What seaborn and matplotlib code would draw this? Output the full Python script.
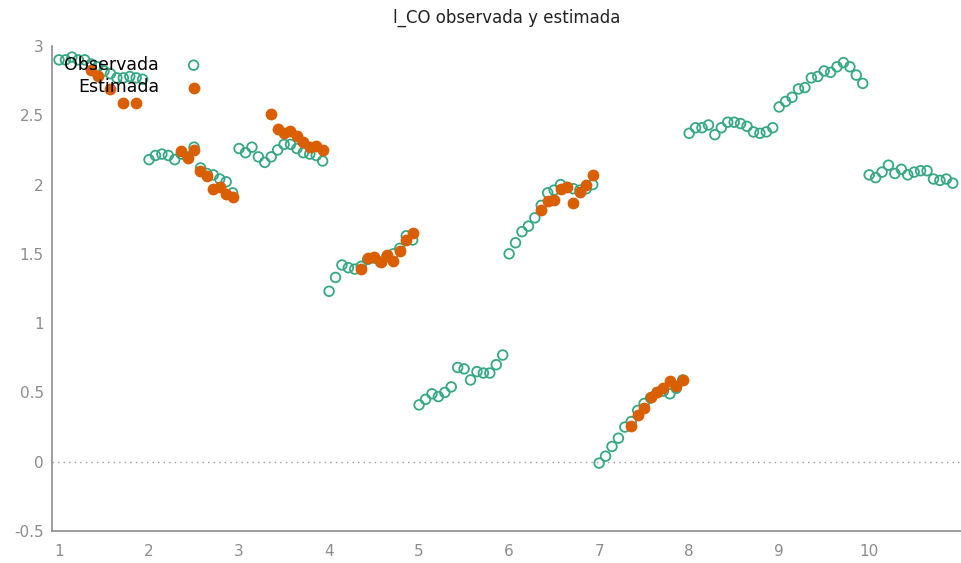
import numpy as np
import pandas as pd
import seaborn as sns
import matplotlib.pyplot as plt

# l_CO panel: 10 units, 14 periods each
T = 14
units = list(range(1, 11))

obs_1 = [2.90, 2.90, 2.92, 2.90, 2.90, 2.87, 2.85, 2.82, 2.80, 2.77, 2.77, 2.78, 2.77, 2.76]
obs_2 = [2.18, 2.21, 2.22, 2.21, 2.18, 2.22, 2.20, 2.27, 2.12, 2.08, 2.07, 2.04, 2.02, 1.94]
obs_3 = [2.26, 2.23, 2.27, 2.20, 2.16, 2.20, 2.25, 2.29, 2.29, 2.26, 2.23, 2.22, 2.21, 2.17]
obs_4 = [1.23, 1.33, 1.42, 1.40, 1.39, 1.41, 1.46, 1.47, 1.44, 1.48, 1.50, 1.54, 1.63, 1.60]
obs_5 = [0.41, 0.45, 0.49, 0.47, 0.50, 0.54, 0.68, 0.67, 0.59, 0.65, 0.64, 0.64, 0.70, 0.77]
obs_6 = [1.50, 1.58, 1.66, 1.70, 1.76, 1.85, 1.94, 1.96, 2.00, 1.98, 1.97, 1.96, 1.97, 2.00]
obs_7 = [-0.01, 0.04, 0.11, 0.17, 0.25, 0.29, 0.37, 0.42, 0.46, 0.50, 0.51, 0.49, 0.53, 0.59]
obs_8 = [2.37, 2.41, 2.41, 2.43, 2.36, 2.41, 2.45, 2.45, 2.44, 2.42, 2.38, 2.37, 2.38, 2.41]
obs_9 = [2.56, 2.60, 2.63, 2.69, 2.70, 2.77, 2.78, 2.82, 2.81, 2.85, 2.88, 2.85, 2.79, 2.73]
obs_10 = [2.07, 2.05, 2.09, 2.14, 2.08, 2.11, 2.07, 2.09, 2.10, 2.10, 2.04, 2.03, 2.04, 2.01]

nan = np.nan
# fitted values exist from period 6 on (first 5 periods lost)
est_1 = [nan] * 5 + [2.83, 2.78, nan, 2.69, nan, 2.59, nan, 2.59, nan]
est_2 = [nan] * 5 + [2.24, 2.19, 2.25, 2.10, 2.06, 1.97, 1.98, 1.93, 1.91]
est_3 = [nan] * 5 + [2.51, 2.40, 2.37, 2.39, 2.35, 2.31, 2.27, 2.28, 2.25]
est_4 = [nan] * 5 + [1.39, 1.47, 1.48, 1.44, 1.49, 1.45, 1.52, 1.60, 1.65]
est_5 = [nan] * 14
est_6 = [nan] * 5 + [1.82, 1.88, 1.89, 1.97, 1.98, 1.87, 1.95, 2.00, 2.07]
est_7 = [nan] * 5 + [0.26, 0.34, 0.39, 0.47, 0.50, 0.53, 0.58, 0.55, 0.59]
est_8 = [nan] * 14
est_9 = [nan] * 14
est_10 = [nan] * 14

observada = [obs_1, obs_2, obs_3, obs_4, obs_5, obs_6, obs_7, obs_8, obs_9, obs_10]
estimada = [est_1, est_2, est_3, est_4, est_5, est_6, est_7, est_8, est_9, est_10]

rows = []
for u, o, e in zip(units, observada, estimada):
    for t in range(T):
        rows.append({'x': u + t / T, 'obs': o[t], 'est': e[t]})
df = pd.DataFrame(rows)

green = '#36a884'
orange = '#d95f02'
gray = '#8c8c8c'

sns.set_style('white')
plt.rcParams['font.family'] = ['DejaVu Sans']

fig = plt.figure(figsize=(9.61, 5.63), dpi=100)
ax = fig.add_axes([52 / 961, 1 - 531 / 563, 1 - 52 / 961, 485 / 563])

ax.axhline(0, color='#999999', lw=1, ls=(0, (1, 3)), zorder=0)

sns.scatterplot(data=df, x='x', y='obs', ax=ax, marker='o', s=48,
                linewidth=1.3, label='Observada', zorder=2)
pts = ax.collections[-1]
pts.set_facecolor('none')
pts.set_edgecolor(green)

sns.scatterplot(data=df.dropna(subset=['est']), x='x', y='est', ax=ax, marker='o',
                s=72, color=orange, edgecolor=orange, linewidth=0, label='Estimada', zorder=3)

ax.set_xlim(0.922, 11.02)
ax.set_ylim(-0.5, 3.0)
ax.set_xticks(units)
ax.set_yticks([-0.5, 0, 0.5, 1, 1.5, 2, 2.5, 3])
ax.set_yticklabels(['-0.5', '0', '0.5', '1', '1.5', '2', '2.5', '3'])
ax.set_xlabel('')
ax.set_ylabel('')
ax.set_title('l_CO observada y estimada', fontsize=12, color='#222222', pad=17)

for side in ['top', 'right']:
    ax.spines[side].set_visible(False)
for side in ['left', 'bottom']:
    ax.spines[side].set_color(gray)
    ax.spines[side].set_linewidth(1.2)
ax.tick_params(axis='both', direction='in', length=7, width=1, color=gray,
               labelcolor=gray, labelsize=11)
ax.tick_params(axis='x', pad=9)
ax.tick_params(axis='y', pad=6)

ax.legend(loc='upper left', bbox_to_anchor=(0.0, 1.005), frameon=False, markerfirst=False,
          fontsize=12.5, handlelength=1.0, handletextpad=1.5, labelspacing=0.25,
          borderaxespad=0.3, labelcolor='black')

fig.savefig('out.png', dpi=100)
